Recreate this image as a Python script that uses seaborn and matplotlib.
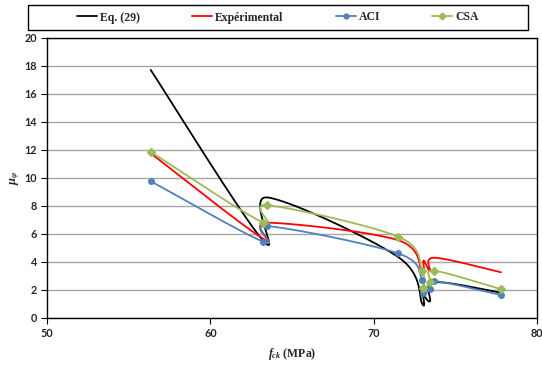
import numpy as np
import pandas as pd
import matplotlib
matplotlib.use("Agg")
import matplotlib.pyplot as plt
from matplotlib.lines import Line2D
from matplotlib.patches import Rectangle
import seaborn as sns

# Valorile
fck = [56.35, 63.25, 63.5, 71.5, 72.98, 73.05, 73.45, 73.72, 77.8]
eq29 = [17.7, 5.5, 8.6, 4.35, 1.0, 1.6, 1.2, 2.55, 1.8]
experimental = [11.75, 5.65, 6.8, 5.55, 3.2, 4.1, 3.35, 4.3, 3.26]
aci = [9.76, 5.44, 6.56, 4.61, 2.7, 1.76, 2.05, 2.64, 1.64]
csa = [11.85, 6.79, 8.05, 5.8, 3.37, 2.12, 2.59, 3.37, 2.05]

serii = ["Eq. (29)", "Expérimental", "ACI", "CSA"]
culori = ["#000000", "#FF0000", "#4F81BD", "#9BBB59"]
markere = [None, None, "o", "D"]


# Curba netezita ca in Excel (Bezier cu puncte de control Catmull-Rom)
def netezire(xs, ys, n=60):
    P = np.column_stack([xs, ys]).astype(float)
    bucati = []
    for i in range(len(P) - 1):
        p0 = P[i - 1] if i > 0 else P[i]
        p1, p2 = P[i], P[i + 1]
        p3 = P[i + 2] if i + 2 < len(P) else P[i + 1]
        c1 = p1 + (p2 - p0) / 6
        c2 = p2 - (p3 - p1) / 6
        t = np.linspace(0, 1, n)[:, None]
        seg = (1 - t) ** 3 * p1 + 3 * (1 - t) ** 2 * t * c1 + 3 * (1 - t) * t ** 2 * c2 + t ** 3 * p2
        bucati.append(seg if i == 0 else seg[1:])
    return np.vstack(bucati)


sns.set_theme(style="white")
plt.rcParams["font.family"] = ["Lato", "DejaVu Sans"]
plt.rcParams["mathtext.fontset"] = "custom"
plt.rcParams["mathtext.it"] = "Liberation Serif:italic:bold"
plt.rcParams["mathtext.rm"] = "Liberation Serif:bold"

fig = plt.figure(figsize=(5.42, 3.65), dpi=100)
ax = fig.add_axes([0.0867, 0.1288, 0.904, 0.768])

for nume, valori, culoare, marker in zip(serii, [eq29, experimental, aci, csa], culori, markere):
    curba = netezire(fck, valori)
    df = pd.DataFrame({"x": curba[:, 0], "y": curba[:, 1]})
    sns.lineplot(data=df, x="x", y="y", sort=False, estimator=None, color=culoare,
                 linewidth=1.3, ax=ax, zorder=3)
    if marker:
        ax.plot(fck, valori, linestyle="none", marker=marker, color=culoare,
                markersize=4 if marker == "o" else 3.8, zorder=4)

ax.set_xlim(50, 80)
ax.set_ylim(0, 20)
ax.set_xticks([50, 60, 70, 80])
ax.set_yticks(range(0, 21, 2))
ax.yaxis.grid(True, color="#A6A6A6", linewidth=1.0)
ax.xaxis.grid(False)
for s in ax.spines.values():
    s.set_color("black")
    s.set_linewidth(1.0)
ax.tick_params(axis="both", direction="out", length=4, width=0.8, color="black",
               labelsize=7.8, pad=3, left=True, bottom=True)
for lab in ax.get_xticklabels() + ax.get_yticklabels():
    lab.set_fontweight("bold")

ax.set_xlabel(r"$f_{ck}$ (MPa)", fontsize=8.5, fontweight="bold",
              fontfamily="Liberation Serif", labelpad=5)
ax.set_ylabel(r"$\mu_{\varphi}$", fontsize=9, labelpad=2)

# Cadrul legendei
fig.patches.append(Rectangle((28 / 542, 1 - 30 / 365), 500 / 542, 25 / 365,
                             transform=fig.transFigure, fill=False,
                             edgecolor="black", linewidth=1.0))

handles = [Line2D([], [], color=c, linewidth=1.3, marker=m, markersize=3.5)
           for c, m in zip(culori, markere)]
leg = fig.legend(handles, serii, loc="center", ncol=4,
                 bbox_to_anchor=(278 / 542, 1 - 17.5 / 365),
                 prop={"family": "Liberation Serif", "weight": "bold", "size": 8.5},
                 handlelength=1.7, handletextpad=0.25, columnspacing=4.4,
                 frameon=False, borderaxespad=0, borderpad=0)

fig.savefig("out.png", dpi=100)
